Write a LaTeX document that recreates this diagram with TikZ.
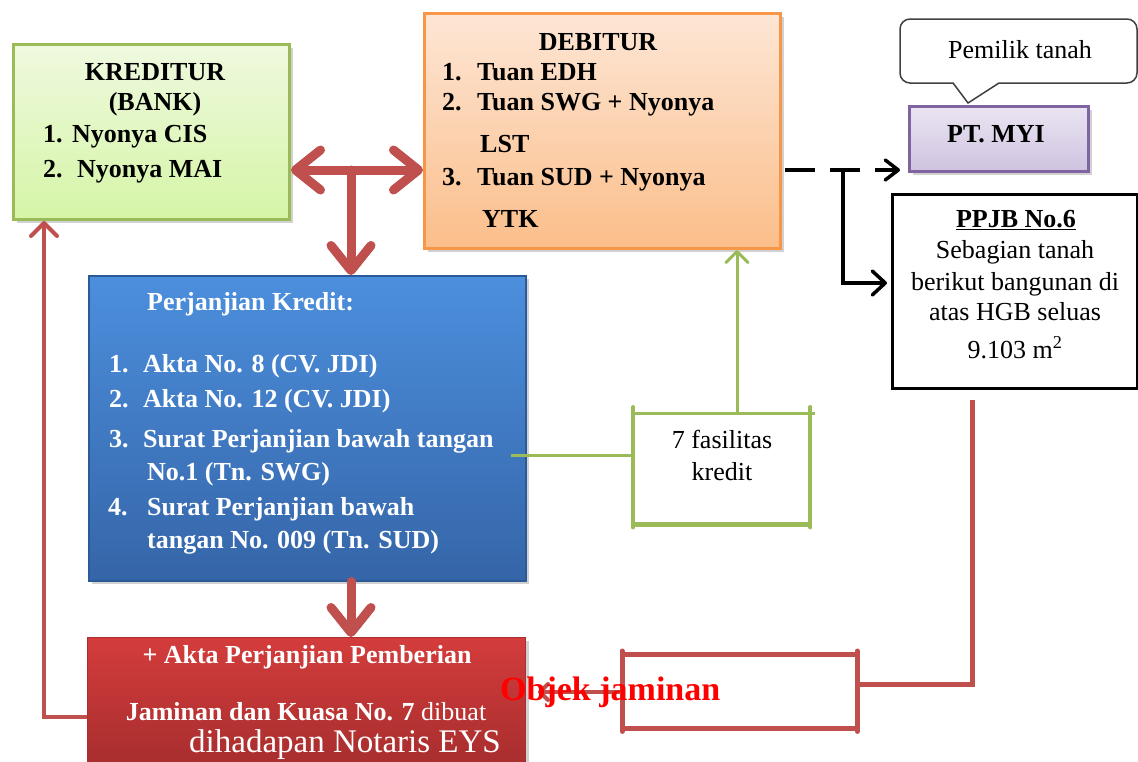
\documentclass[tikz,border=0pt]{standalone}
\usepackage{fontspec}
\setmainfont{Liberation Serif}
\usetikzlibrary{arrows.meta,shadows,calc}
\definecolor{kgreen}{HTML}{9BBB59}
\definecolor{korange}{HTML}{F79646}
\definecolor{kpurple}{HTML}{8064A2}
\definecolor{kred}{HTML}{C0504D}
\definecolor{gtop}{HTML}{EFF9DF}
\definecolor{gbot}{HTML}{D5F5A6}
\definecolor{otop}{HTML}{FDE6D5}
\definecolor{obot}{HTML}{FBBE8A}
\definecolor{ptop}{HTML}{EAE4F2}
\definecolor{pbot}{HTML}{CFC3E0}
\definecolor{btop}{HTML}{4C8FDD}
\definecolor{bbot}{HTML}{3565A8}
\definecolor{bedge}{HTML}{2B5A98}
\definecolor{rtop}{HTML}{D43C3C}
\definecolor{rbot}{HTML}{A52D2D}
\begin{document}
\begin{tikzpicture}[x=1pt,y=-1pt,
  bx/.style={rectangle, inner sep=0pt, anchor=north west},
  shd/.style={drop shadow={shadow xshift=3pt, shadow yshift=-3pt, opacity=0.3, fill=black!60}},
  bt/.style={font=\fontsize{26}{30}\selectfont\bfseries, inner sep=0pt},
  rt/.style={font=\fontsize{26}{30}\selectfont, inner sep=0pt},
  wt/.style={text=white},
  redarr/.style={draw=kred, line width=9pt, line cap=round, -{Straight Barb[length=25pt,width=40pt,round]}},
  redthin/.style={draw=kred, line width=4pt, line join=miter},
  redmid/.style={draw=kred, line width=5pt},
  gline/.style={draw=kgreen, line width=3pt},
  blk/.style={draw=black, line width=3.5pt, line join=miter}
]
\useasboundingbox (0,0) rectangle (1138,761);

% ---------- boxes ----------
\node[bx, minimum width=276pt, minimum height=175pt, draw=kgreen, line width=3pt,
      top color=gtop, bottom color=gbot, shd] (kred) at (12,43) {};
\node[bx, minimum width=356pt, minimum height=235pt, draw=korange, line width=3pt,
      top color=otop, bottom color=obot, shd] (deb) at (423,12) {};
\node[bx, minimum width=179pt, minimum height=65pt, draw=kpurple, line width=3pt,
      top color=ptop, bottom color=pbot, shd] (myi) at (908,105) {};
\node[bx, minimum width=245pt, minimum height=194pt, draw=black, line width=3pt,
      fill=white] (ppjb) at (891,193) {};
\node[bx, minimum width=437pt, minimum height=305pt, draw=bedge, line width=1.5pt,
      top color=btop, bottom color=bbot, shd] (blue) at (88,275) {};
\node[bx, minimum width=438pt, minimum height=135pt, draw=rtop!80!black, line width=1pt,
      top color=rtop, bottom color=rbot, shd] (redb) at (87,637) {};
\node[bx, minimum width=177pt, minimum height=111pt] (fas) at (633,413) {};
\node[bx, minimum width=235pt, minimum height=74pt] (obj) at (622,654) {};

% speech bubble
\draw[draw=black!75, line width=1.5pt, fill=white]
  (953,83) [rounded corners=10pt] -- (900,83) -- (900,19) -- (1137,19) -- (1137,83)
  [sharp corners] -- (999,83) -- (968,103) -- cycle;

% bracket boxes
\draw[gline, line width=4pt, line cap=round] ($(fas.north west)+(0,-6)$) -- ($(fas.south west)+(0,3)$);
\draw[gline, line width=4pt, line cap=round] ($(fas.north east)+(0,-6)$) -- ($(fas.south east)+(0,3)$);
\draw[gline] (fas.north west) -- ($(fas.north east)+(5,0)$);
\draw[gline, line width=5pt] (fas.south west) -- (fas.south east);
\draw[redmid, line cap=round] ($(obj.north west)+(0,-3)$) -- ($(obj.south west)+(0,3)$);
\draw[redmid, line cap=round] ($(obj.north east)+(0,-3)$) -- ($(obj.south east)+(0,3)$);
\draw[redmid] (obj.north west) -- (obj.north east);
\draw[redmid] (obj.south west) -- (obj.south east);

% ---------- connectors ----------
\coordinate (j) at (351,170);
\draw[redarr] (j) -- (kred.east |- j);
\draw[redarr] (j) -- (deb.west |- j);
\draw[redarr] (j) -- (j |- blue.north);
\draw[redarr] (blue.south -| j) -- (redb.north -| j);

\coordinate (lc) at (44,717);
\draw[redthin, -{Straight Barb[length=13pt,width=26pt,round]}] (redb.west |- lc) -- (lc) -- (lc |- kred.south);

\coordinate (gx) at (737,413);
\draw[gline, -{Straight Barb[length=11pt,width=22pt,round]}] (gx) -- (gx |- deb.south);
\coordinate (gl) at (600,455);
\draw[gline] ($(blue.east |- gl)+(-16,0)$) -- (fas.west |- gl);

\coordinate (bk) at (843,170);
\draw[blk, dash pattern=on 30pt off 15pt, shorten <=3pt, shorten >=8pt,
      -{Straight Barb[length=13pt,width=20pt,round]}] (deb.east |- bk) -- (myi.west |- bk);
\coordinate (pp) at (843,283);
\draw[blk, shorten >=4pt, -{Straight Barb[length=13pt,width=24pt,round]}] (bk) -- (pp) -- (ppjb.west |- pp);

\coordinate (rc) at (972,684);
\draw[redmid] ($(ppjb.south -| rc)+(0,10)$) -- (rc) -- (obj.east |- rc);

\coordinate (oc) at (600,692);
\draw[redthin, shorten >=12pt, -{Straight Barb[length=8pt,width=16pt,round]}] (obj.west |- oc) -- (redb.east |- oc);

% ---------- texts ----------
\node[bt, anchor=base] (kt1) at (155,80) {KREDITUR};
\node[bt, anchor=base] (kt2) at (155,110) {(BANK)};
\node[bt, anchor=base west] (kt3) at (43,142) {\makebox[29pt][l]{1.}Nyonya CIS};
\node[bt, anchor=base west] (kt4) at (43,177) {\makebox[34pt][l]{2.}Nyonya MAI};

\node[bt, anchor=base] (dt1) at (598,50) {DEBITUR};
\node[bt, anchor=base west] (dt2) at (442,80) {\makebox[35pt][l]{1.}Tuan EDH};
\node[bt, anchor=base west] (dt3) at (442,110) {\makebox[35pt][l]{2.}Tuan SWG + Nyonya};
\node[bt, anchor=base west] (dt4) at (480,152) {LST};
\node[bt, anchor=base west] (dt5) at (442,185) {\makebox[35pt][l]{3.}Tuan SUD + Nyonya};
\node[bt, anchor=base west] (dt6) at (482,227) {YTK};

\node[rt, anchor=base] (bubt) at (1020,58) {Pemilik tanah};
\node[bt, anchor=base] (myit) at (996,142) {PT. MYI};

\node[bt, anchor=base] (pt1) at (1016,227) {\underline{PPJB No.6}};
\node[rt, anchor=base] (pt2) at (1015,258) {Sebagian tanah};
\node[rt, anchor=base] (pt3) at (1015,290) {berikut bangunan di};
\node[rt, anchor=base] (pt4) at (1015,320) {atas HGB seluas};
\node[rt, anchor=base] (pt5) at (1015,358) {9.103 m\textsuperscript{2}};

\node[bt, wt, anchor=base west] (bt1) at (147,310) {Perjanjian Kredit:};
\node[bt, wt, anchor=base west] (bt2) at (109,372) {\makebox[34pt][l]{1.}Akta No. 8 (CV. JDI)};
\node[bt, wt, anchor=base west] (bt3) at (109,407) {\makebox[34pt][l]{2.}Akta No. 12 (CV. JDI)};
\node[bt, wt, anchor=base west] (bt4) at (109,447) {\makebox[34pt][l]{3.}Surat Perjanjian bawah tangan};
\node[bt, wt, anchor=base west] (bt5) at (147,480) {No.1 (Tn. SWG)};
\node[bt, wt, anchor=base west] (bt6) at (108,515) {\makebox[39pt][l]{4.}Surat Perjanjian bawah};
\node[bt, wt, anchor=base west] (bt7) at (147,548) {tangan No. 009 (Tn. SUD)};

\node[bt, wt, anchor=base] (rt1) at (307,663) {+ Akta Perjanjian Pemberian};
\node[rt, wt, anchor=base] (rt2) at (306,720) {\textbf{Jaminan dan Kuasa No. 7} dibuat};
\node[wt, inner sep=0pt, font=\fontsize{33}{38}\selectfont, anchor=base] (rt3) at (345,752) {dihadapan Notaris EYS};

\node[rt, anchor=base] (ft1) at (722,448) {7 fasilitas};
\node[rt, anchor=base] (ft2) at (722,480) {kredit};

\node[inner sep=0pt, font=\fontsize{34}{40}\selectfont\bfseries, text=red, anchor=base west] (objt) at (500,700) {Objek jaminan};
\end{tikzpicture}
\end{document}
